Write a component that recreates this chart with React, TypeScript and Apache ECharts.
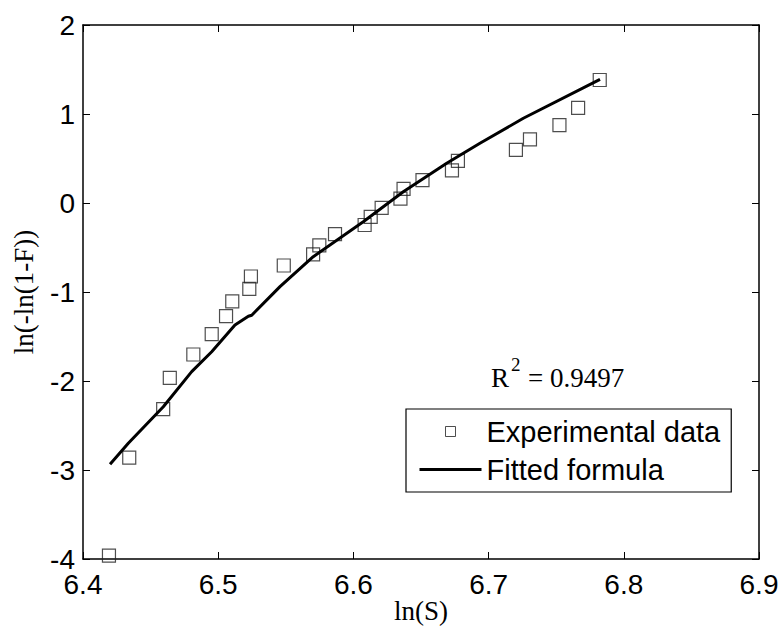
import React, { useEffect, useRef } from "react";
import * as echarts from "echarts";

const expX = [6.4192, 6.4342, 6.4593, 6.4642, 6.4816, 6.4952, 6.5058, 6.5104, 6.523, 6.5242, 6.5485, 6.5702, 6.5748, 6.5864, 6.6083, 6.6128, 6.6209, 6.6348, 6.6371, 6.6511, 6.6729, 6.6773, 6.7202, 6.7306, 6.7524, 6.7662, 6.7822];
const expY = [-3.963, -2.86, -2.316, -1.966, -1.702, -1.474, -1.27, -1.105, -0.966, -0.826, -0.702, -0.578, -0.476, -0.35, -0.247, -0.155, -0.055, 0.049, 0.159, 0.258, 0.366, 0.473, 0.596, 0.716, 0.875, 1.068, 1.382];

const fitX = [6.420, 6.4335, 6.4594, 6.4804, 6.4952, 6.5124, 6.5223, 6.5248, 6.5457, 6.5703, 6.6073, 6.6369, 6.669, 6.6936, 6.7257, 6.7824];
const fitY = [-2.936, -2.70, -2.289, -1.895, -1.671, -1.371, -1.272, -1.261, -0.94, -0.603, -0.21, 0.127, 0.446, 0.671, 0.952, 1.390];

const xTicks = { min: 6.4, max: 6.9, step: 0.1 };
const yTicks = { min: -4, max: 2, step: 1 };

const seriesNames = ["Experimental data", "Fitted formula"];
const xName = "ln(S)";
const yName = "ln(-ln(1-F))";
const r2Value = "= 0.9497";

const SANS = '"Liberation Sans", Arial, Helvetica, sans-serif';
const SERIF = '"Liberation Serif", "Times New Roman", Times, serif';

export default function App() {
  const ref = useRef<HTMLDivElement>(null);
  useEffect(() => {
    if (!ref.current) return;
    const chart = echarts.init(ref.current, undefined, { renderer: "svg" });
    const tickCommon = { show: true, inside: true, length: 7, lineStyle: { color: "#000", width: 1 } };
    const lineCommon = { show: true, onZero: false, lineStyle: { color: "#000", width: 1.5 } };
    const xBase = { type: "value" as const, min: xTicks.min, max: xTicks.max, interval: xTicks.step, splitLine: { show: false } };
    const yBase = { type: "value" as const, min: yTicks.min, max: yTicks.max, interval: yTicks.step, splitLine: { show: false } };
    chart.setOption({
      animation: false,
      backgroundColor: "#fff",
      grid: { left: 83, right: 22, top: 25, bottom: 69, containLabel: false, outerBoundsMode: "none" },
      xAxis: [
        {
          ...xBase,
          position: "bottom",
          axisLine: lineCommon,
          axisTick: tickCommon,
          axisLabel: { color: "#000", fontFamily: SANS, fontSize: 28, lineHeight: 22, margin: 14, formatter: (v: number) => v.toFixed(1) },
          name: xName,
          nameLocation: "middle",
          nameGap: 38,
          nameMoveOverlap: false,
          nameTextStyle: { color: "#000", fontFamily: SERIF, fontSize: 27, lineHeight: 27 },
        },
        {
          ...xBase,
          position: "top",
          axisLine: lineCommon,
          axisTick: tickCommon,
          axisLabel: { show: false },
        },
      ],
      yAxis: [
        {
          ...yBase,
          position: "left",
          axisLine: lineCommon,
          axisTick: tickCommon,
          axisLabel: { color: "#000", fontFamily: SANS, fontSize: 28, lineHeight: 22, margin: 8, formatter: (v: number) => String(v) },
          name: yName,
          nameLocation: "middle",
          nameRotate: 90,
          nameGap: 46,
          nameMoveOverlap: false,
          nameTextStyle: { color: "#000", fontFamily: SERIF, fontSize: 27 },
        },
        {
          ...yBase,
          position: "right",
          axisLine: lineCommon,
          axisTick: tickCommon,
          axisLabel: { show: false },
        },
      ],
      legend: {
        orient: "vertical",
        left: 406,
        top: 409,
        padding: [8, 11, 8, 12],
        itemGap: 9,
        itemWidth: 62,
        itemHeight: 10,
        backgroundColor: "#fff",
        borderColor: "#000",
        borderWidth: 1.2,
        borderRadius: 0,
        textStyle: { color: "#000", fontFamily: SANS, fontSize: 29 },
        selectedMode: false,
        data: [
          {
            name: seriesNames[0],
            icon: "path://M0 0H10V10H0Z",
            itemStyle: { color: "rgba(0,0,0,0)", borderColor: "#222", borderWidth: 1 },
          },
          {
            name: seriesNames[1],
            itemStyle: { opacity: 0 },
            lineStyle: { color: "#000", width: 3 },
          },
        ],
      },
      graphic: [
        { type: "text", left: 491, top: 364, style: { text: "R", font: `27px ${SERIF}`, fill: "#000" } },
        { type: "text", left: 511, top: 355, style: { text: "2", font: `19px ${SERIF}`, fill: "#000" } },
        { type: "text", left: 528, top: 364, style: { text: r2Value, font: `27px ${SERIF}`, fill: "#000" } },
      ],
      series: [
        {
          name: seriesNames[0],
          type: "scatter",
          symbol: "rect",
          symbolSize: 13,
          silent: true,
          itemStyle: { color: "rgba(0,0,0,0)", borderColor: "#222", borderWidth: 1.2 },
          data: expX.map((x, i) => [x, expY[i]]),
          z: 2,
        },
        {
          name: seriesNames[1],
          type: "line",
          symbol: "none",
          silent: true,
          lineStyle: { color: "#000", width: 3 },
          itemStyle: { color: "#000" },
          data: fitX.map((x, i) => [x, fitY[i]]),
          z: 3,
        },
      ],
    });
    return () => chart.dispose();
  }, []);
  return (
    <div
      ref={ref}
      style={{ position: "fixed", left: 0, top: 0, width: 781, height: 628, background: "#fff" }}
    />
  );
}
